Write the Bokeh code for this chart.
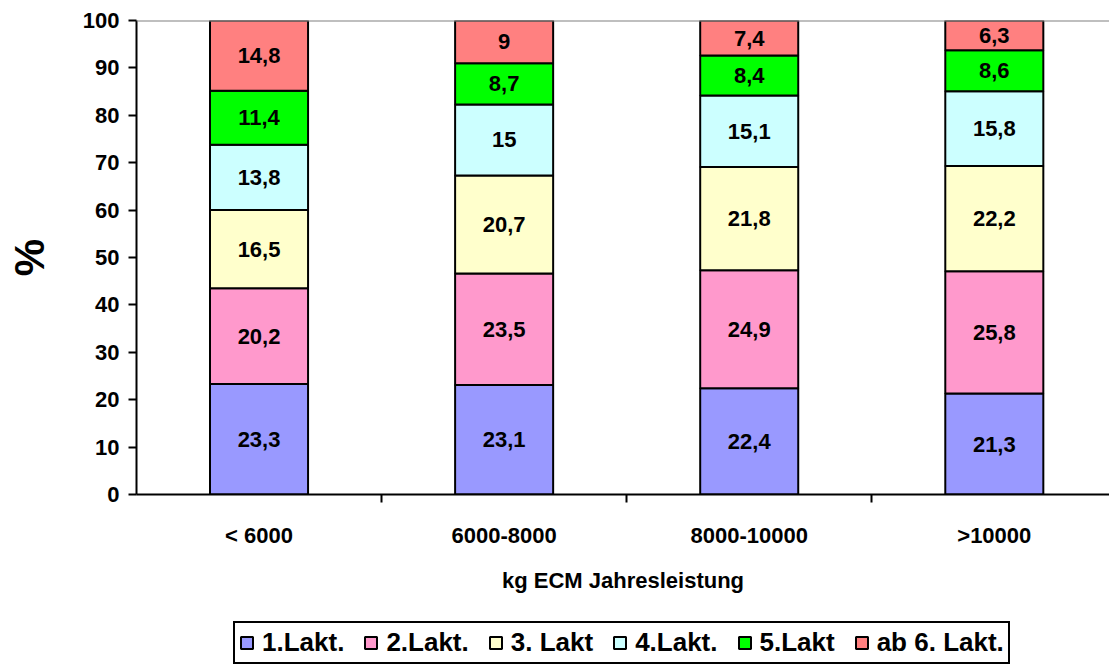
from bokeh.plotting import figure
from bokeh.layouts import column
from bokeh.models import (ColumnDataSource, FixedTicker, Range1d, Legend, LegendItem, Span)
from bokeh.core.properties import value
from bokeh.embed import file_html
from bokeh.resources import INLINE

categories = ["< 6000", "6000-8000", "8000-10000", ">10000"]
series_names = ["1.Lakt.", "2.Lakt.", "3. Lakt", "4.Lakt.", "5.Lakt", "ab 6. Lakt."]
lakt1 = [23.3, 23.1, 22.4, 21.3]
lakt2 = [20.2, 23.5, 24.9, 25.8]
lakt3 = [16.5, 20.7, 21.8, 22.2]
lakt4 = [13.8, 15.0, 15.1, 15.8]
lakt5 = [11.4, 8.7, 8.4, 8.6]
lakt6 = [14.8, 9.0, 7.4, 6.3]
colors = ["#9999FF", "#FF99CC", "#FFFFCC", "#CCFFFF", "#00FF00", "#FF8080"]

FONT = "Liberation Sans"
FS = "22px"
series = [lakt1, lakt2, lakt3, lakt4, lakt5, lakt6]
keys = ["s%d" % i for i in range(6)]
xs = [i + 0.5 for i in range(len(categories))]
data = {"x": xs}
for k, s in zip(keys, series):
    data[k] = s
src = ColumnDataSource(data)

p = figure(width=1109, height=620, x_range=Range1d(0, 3.97), y_range=Range1d(0, 100),
           output_backend="svg", toolbar_location=None,
           min_border_left=136, min_border_right=0, min_border_top=20, min_border_bottom=126)
p.outline_line_color = None
p.xgrid.visible = False
p.ygrid.visible = False

renderers = p.vbar_stack(keys, x="x", width=0.4, source=src, fill_color=colors,
                         line_color="black", line_width=2)

# labels
lx, ly, lt = [], [], []
for i in range(len(categories)):
    base = 0.0
    for s in series:
        v = s[i]
        lx.append(xs[i]); ly.append(base + v / 2); lt.append(("%g" % v).replace(".", ","))
        base += v
p.text(x=lx, y=ly, text=lt, text_align="center", text_baseline="middle",
       text_font=value(FONT), text_font_style="bold", text_font_size=FS, text_color="black")

p.add_layout(Span(location=100, dimension="width", line_color="#808080", line_width=2))

# y axis
ya = p.yaxis[0]
ya.ticker = FixedTicker(ticks=list(range(0, 101, 10)), minor_ticks=[])
ya.axis_line_width = 2
ya.axis_line_color = "black"
ya.major_tick_line_width = 2
ya.major_tick_line_color = "black"
ya.major_tick_out = 8
ya.major_tick_in = 0
ya.minor_tick_out = 0
ya.minor_tick_in = 0
ya.major_label_text_font = FONT
ya.major_label_text_font_style = "bold"
ya.major_label_text_font_size = FS
ya.major_label_text_color = "black"
ya.major_label_standoff = 9
ya.axis_label = "%"
ya.axis_label_text_font = FONT
ya.axis_label_text_font_style = "bold"
ya.axis_label_text_font_size = "42px"
ya.axis_label_text_color = "black"
ya.axis_label_standoff = 27

# x axis
xa = p.xaxis[0]
xa.ticker = FixedTicker(ticks=xs, minor_ticks=[1, 2, 3])
xa.major_label_overrides = {x: c for x, c in zip(xs, categories)}
xa.axis_line_width = 2
xa.axis_line_color = "black"
xa.major_tick_out = 0
xa.major_tick_in = 0
xa.minor_tick_out = 8
xa.minor_tick_in = 0
xa.minor_tick_line_width = 2
xa.minor_tick_line_color = "black"
xa.major_label_text_font = FONT
xa.major_label_text_font_style = "bold"
xa.major_label_text_font_size = FS
xa.major_label_text_color = "black"
xa.major_label_standoff = 20
xa.axis_label = "kg ECM Jahresleistung"
xa.axis_label_text_font = FONT
xa.axis_label_text_font_style = "bold"
xa.axis_label_text_font_size = FS
xa.axis_label_text_color = "black"
xa.axis_label_standoff = 17

# legend in a separate strip below the chart (same stacked bars, outside its visible range)
p2 = figure(width=1109, height=48, x_range=Range1d(-20, -16), y_range=Range1d(1000, 1001),
            output_backend="svg", toolbar_location=None,
            x_axis_location=None, y_axis_location=None,
            min_border_left=136, min_border_right=0, min_border_top=0, min_border_bottom=0)
p2.grid.visible = False
p2.outline_line_color = None
lr = p2.vbar_stack(keys, x="x", width=0.4, source=src, fill_color=colors,
                   line_color="black", line_width=2)
items = [LegendItem(label=n, renderers=[r]) for n, r in zip(series_names, lr)]
legend = Legend(items=items, orientation="horizontal", location=(97, 4),
                border_line_color="black", border_line_width=2, border_line_alpha=1,
                label_text_font=FONT, label_text_font_style="bold", label_text_font_size="26px",
                label_text_color="black",
                glyph_width=15, glyph_height=15, label_standoff=8, spacing=19,
                padding=4, margin=0, background_fill_alpha=1)
p2.add_layout(legend, "center")

layout = column(p, p2, spacing=0)
open("out.html", "w").write(file_html(layout, INLINE))
